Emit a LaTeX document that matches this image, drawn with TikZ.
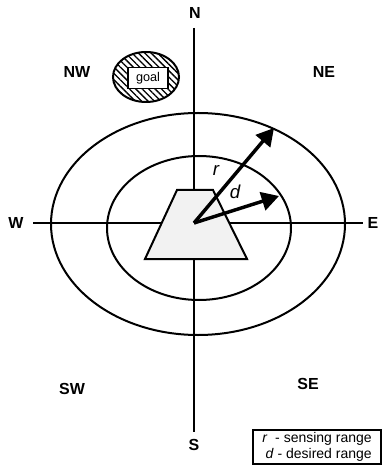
\documentclass[tikz,border=0pt]{standalone}
\usepackage{fontspec}
\setmainfont{Liberation Sans}
\usetikzlibrary{arrows.meta,patterns.meta,shapes.geometric}
\definecolor{robotgray}{RGB}{242,242,242}

\begin{document}
\begin{tikzpicture}[x=0.75pt,y=-0.75pt,>={Triangle[length=13pt,width=14pt]},
  dir/.style={font=\bfseries\fontsize{12}{14}\selectfont},
  axis/.style={line width=1.5pt},
  ring/.style={line width=1.5pt},
  rangearrow/.style={->,line width=2.6pt},
  rlabel/.style={font=\itshape\fontsize{14}{16}\selectfont}]
  \useasboundingbox (0,0) rectangle (383,466);

  % 方向标注
  \node[dir] (N) at (195,13) {N};
  \node[dir] (S) at (194,445) {S};
  \node[dir] (W) at (16,223) {W};
  \node[dir] (E) at (373,223) {E};
  \node[dir] (NW) at (77,72) {NW};
  \node[dir] (NE) at (324,72) {NE};
  \node[dir] (SW) at (72,389) {SW};
  \node[dir] (SE) at (308,384) {SE};

  % 坐标轴
  \coordinate (c) at (194,223);
  \coordinate (ntop) at (194,28);
  \coordinate (sbot) at (194,432);
  \coordinate (wend) at (33,223);
  \coordinate (eend) at (363,223);
  \draw[axis] (ntop) -- (sbot);
  \draw[axis] (wend) -- (eend);

  % 两个范围椭圆
  \draw[ring] (198,224) ellipse [x radius=147, y radius=111];
  \draw[ring] (199,228) ellipse [x radius=92, y radius=72];

  % 目标区域
  \node[ellipse,draw,line width=1.5pt,minimum width=49.5pt,minimum height=37.5pt,
        pattern={Lines[angle=-45,distance=3.4pt,line width=1pt]}] (zone) at (146,77) {};
  \node[draw,fill=white,line width=1.2pt,minimum width=30pt,minimum height=15.75pt,
        inner sep=1pt,font=\fontsize{9.5}{11}\selectfont] (goal) at (148,78) {goal};

  % 机器人
  \draw[line width=1.5pt,fill=robotgray]
    (177,190) -- (213,190) -- (247,259) -- (145,259) -- cycle;

  % 感知范围与期望范围
  \coordinate (rtip) at (274,128);
  \coordinate (dtip) at (279,196);
  \draw[rangearrow] (c) -- (rtip);
  \draw[rangearrow] (c) -- (dtip);
  \node[rlabel] (r) at (216,170) {r};
  \node[rlabel] (d) at (235,192) {d};

  % 图例
  \node[draw,line width=1.2pt,align=right,minimum width=96pt,minimum height=25.5pt,
        inner sep=1.5pt,font=\fontsize{10.5}{12.5}\selectfont] (legend) at (317,447)
    {\textit{r}\ \ - sensing range\\\textit{d} - desired range};
\end{tikzpicture}
\end{document}
